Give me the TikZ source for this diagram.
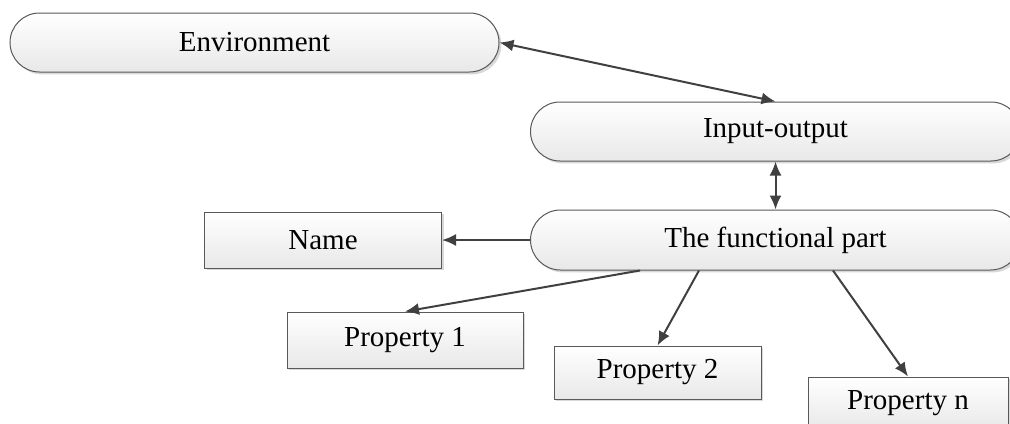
\documentclass[tikz,border=0pt]{standalone}
\usepackage{fontspec}
\setmainfont{Liberation Serif}
\usetikzlibrary{positioning,shapes.misc,shadows,arrows.meta}

\begin{document}
\begin{tikzpicture}[
        x=0.5pt, y=-0.5pt,
        font=\fontsize{14.5}{17}\selectfont,
        part/.style={rounded rectangle, draw=black!65, line width=0.5pt,
            top color=white, bottom color=black!9, inner sep=0pt,
            minimum width=245pt, minimum height=30pt,
            drop shadow={shadow xshift=1.2pt, shadow yshift=-1.2pt, fill=black!30, opacity=0.5}},
        item/.style={rectangle, draw=black!65, line width=0.5pt,
            top color=white, bottom color=black!9, inner sep=0pt,
            minimum height=28pt,
            drop shadow={shadow xshift=1.2pt, shadow yshift=-1.2pt, fill=black!30, opacity=0.5}},
        link/.style={line width=1pt, draw=black!75},
        tip/.style={-{Latex[length=7pt,width=6pt]}},
        tips/.style={{Latex[length=7pt,width=6pt]}-{Latex[length=7pt,width=6pt]}},
    ]
        \clip (0,0) rectangle (1010,423);

        % Define nodes
        \node (env) [part, minimum width=244.5pt, minimum height=29.5pt] at (254.5,42.5) {Environment};
        \node (func) [part] at (775.5,240) {The functional part};
        \node (io) [part, minimum height=29.5pt, above=24pt of func] {Input-output};
        \node (name) [item, minimum width=118.5pt, left=44pt of func] {Name};
        \node (p1) [item, minimum width=118pt] at (405,340) {Property 1};
        \node (p2) [item, minimum width=103.5pt, minimum height=26.5pt] at (657.5,372.5) {Property 2};
        \node (pn) [item, minimum width=100pt, minimum height=26.5pt] at (908,403.5) {Property n};

        % Define arrows
        \draw [link, tips] (env.east) -- (io.north);
        \draw [link, tips] (io.south) -- (func.north);
        \draw [link, tip] (func.west) -- (name.east);
        \draw [link, tip] ([xshift=-67.75pt]func.south) -- (p1.north);
        \draw [link, tip] ([xshift=-38.25pt]func.south) -- (p2.north);
        \draw [link, tip] ([xshift=28.75pt]func.south) -- (pn.north);
    \end{tikzpicture}
\end{document}
